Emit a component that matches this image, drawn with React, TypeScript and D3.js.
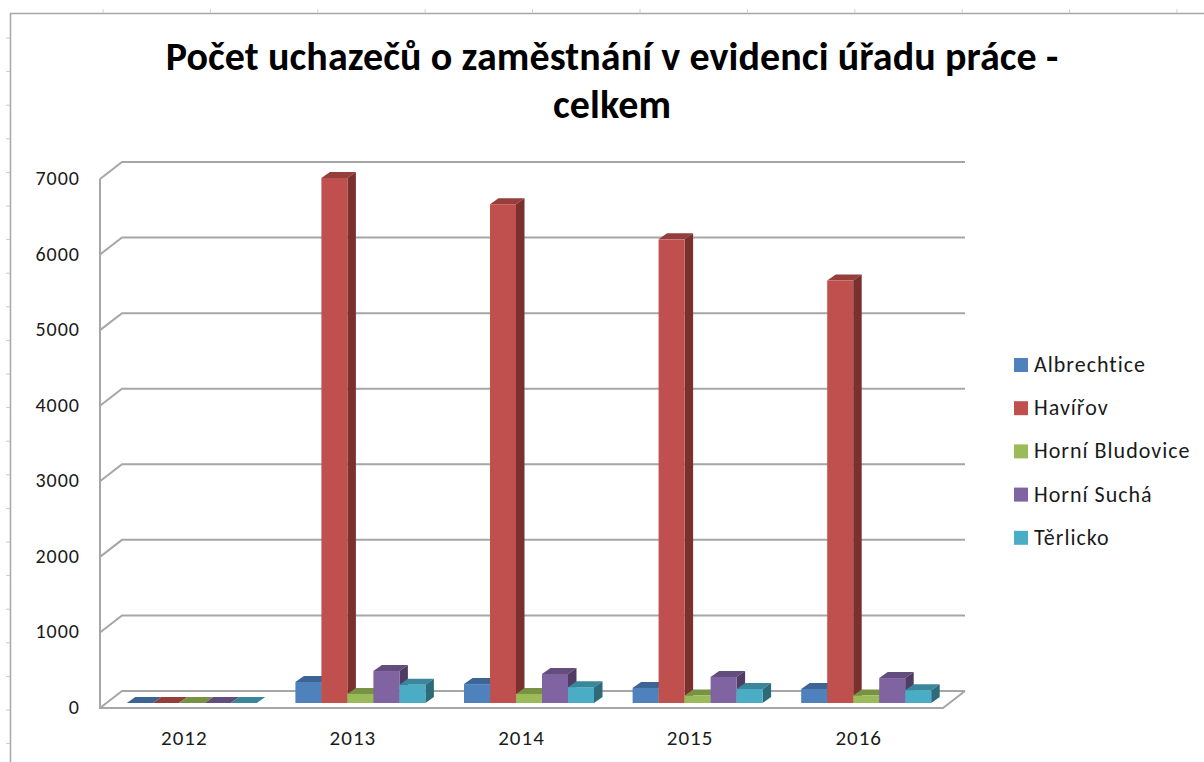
import React from "react";
import * as d3 from "d3";

const categories = ["2012", "2013", "2014", "2015", "2016"];
const seriesNames = ["Albrechtice", "Havířov", "Horní Bludovice", "Horní Suchá", "Těrlicko"];
const albrechtice = [0, 278, 250, 200, 185];
const havirov = [0, 6947, 6600, 6135, 5590];
const horniBludovice = [0, 120, 120, 100, 100];
const horniSucha = [0, 423, 385, 345, 330];
const terlicko = [0, 240, 210, 185, 170];
const allSeries = [albrechtice, havirov, horniBludovice, horniSucha, terlicko];
const yTicks = [0, 1000, 2000, 3000, 4000, 5000, 6000, 7000];
const titleLines = ["Počet uchazečů o zaměstnání v evidenci úřadu práce -", "celkem"];

const front = ["#4f81bd", "#c0504d", "#9bbb59", "#8064a2", "#4bacc6"];
const top = ["#3c6494", "#953e3b", "#789244", "#634d7f", "#3a879b"];
const side = ["#2f4e74", "#7a302e", "#5f7435", "#4e3c64", "#2d6a7a"];
const FONT = "Carlito, Calibri, 'Open Sans', 'Noto Sans', sans-serif";
const grid = "#a6a6a6";

const W = 1204, H = 762;
const x0 = 100, x1 = 943, yBase = 708, y7000 = 179;
const dx = 22, dy = -17;
const barDx = 7.5, barDy = -5, barDepthX = 8.5, barDepthY = -6;
const y = d3.scaleLinear().domain([0, 7000]).range([yBase, y7000]);
const xCat = d3.scaleBand().domain(categories).range([x0, x1]);
const xBar = d3.scaleBand().domain(seriesNames).range([0, 130]);

export default function App() {
  const leftTicks = d3.range(38, 762, 33.6);
  const topTicks = d3.range(103, 1204, 107.4);
  return (
    <svg width={W} height={H} style={{ position: "absolute", left: 0, top: 0, background: "#fff" }} fontFamily={FONT}>
      <path d={`M10.5,${H}V13.5H${W}`} fill="none" stroke="#a6a6a6" strokeWidth={1.5} />
      {leftTicks.map((t) => <line key={t} x1={6} x2={10} y1={t} y2={t} stroke="#c8c8c8" />)}
      {topTicks.map((t) => <line key={t} x1={t} x2={t} y1={9} y2={13} stroke="#d0d0d0" />)}
      {titleLines.map((l, i) => (
        <text key={l} x={612} y={70 + i * 48} textAnchor="middle" fontSize={40} fontWeight={700} letterSpacing={0.1} fill="#000">{l}</text>
      ))}
      <g fill="none" stroke={grid} strokeWidth={2}>
        {yTicks.map((t) => (
          <path key={t} d={`M${x0},${y(t)}l${dx},${dy}H${x1 + dx}`} />
        ))}
        <path d={`M${x0},${y(7000)}V${yBase}H${x1}l${dx},${dy}`} />
      </g>
      {yTicks.map((t) => (
        <text key={t} x={80} y={y(t) + 6} textAnchor="end" fontSize={20} letterSpacing={1} fill="#1a1a1a">{t}</text>
      ))}
      {categories.map((c, ci) => (
        <g key={c}>
          {seriesNames.map((s, si) => {
            const v = allSeries[si][ci];
            const bx = xCat(c)! + (xCat.bandwidth() - 130) / 2 + barDx + xBar(s)!;
            const bw = xBar.bandwidth();
            const by = y(v) + barDy;
            const b0 = y(0) + barDy;
            return (
              <g key={s}>
                <path d={`M${bx},${by}l${barDepthX},${barDepthY}h${bw}l${-barDepthX},${-barDepthY}z`} fill={top[si]} />
                <path d={`M${bx + bw},${by}l${barDepthX},${barDepthY}V${b0 + barDepthY}l${-barDepthX},${-barDepthY}z`} fill={side[si]} />
                <rect x={bx} y={by} width={bw} height={b0 - by} fill={front[si]} />
              </g>
            );
          })}
          <text x={xCat(c)! + xCat.bandwidth() / 2} y={745} textAnchor="middle" fontSize={21} letterSpacing={1} fill="#1a1a1a">{c}</text>
        </g>
      ))}
      {seriesNames.map((s, i) => (
        <g key={s}>
          <rect x={1014} y={358 + i * 43.2} width={14} height={14} fill={front[i]} />
          <text x={1034} y={372 + i * 43.2} fontSize={22} letterSpacing={1} fill="#1a1a1a">{s}</text>
        </g>
      ))}
    </svg>
  );
}
